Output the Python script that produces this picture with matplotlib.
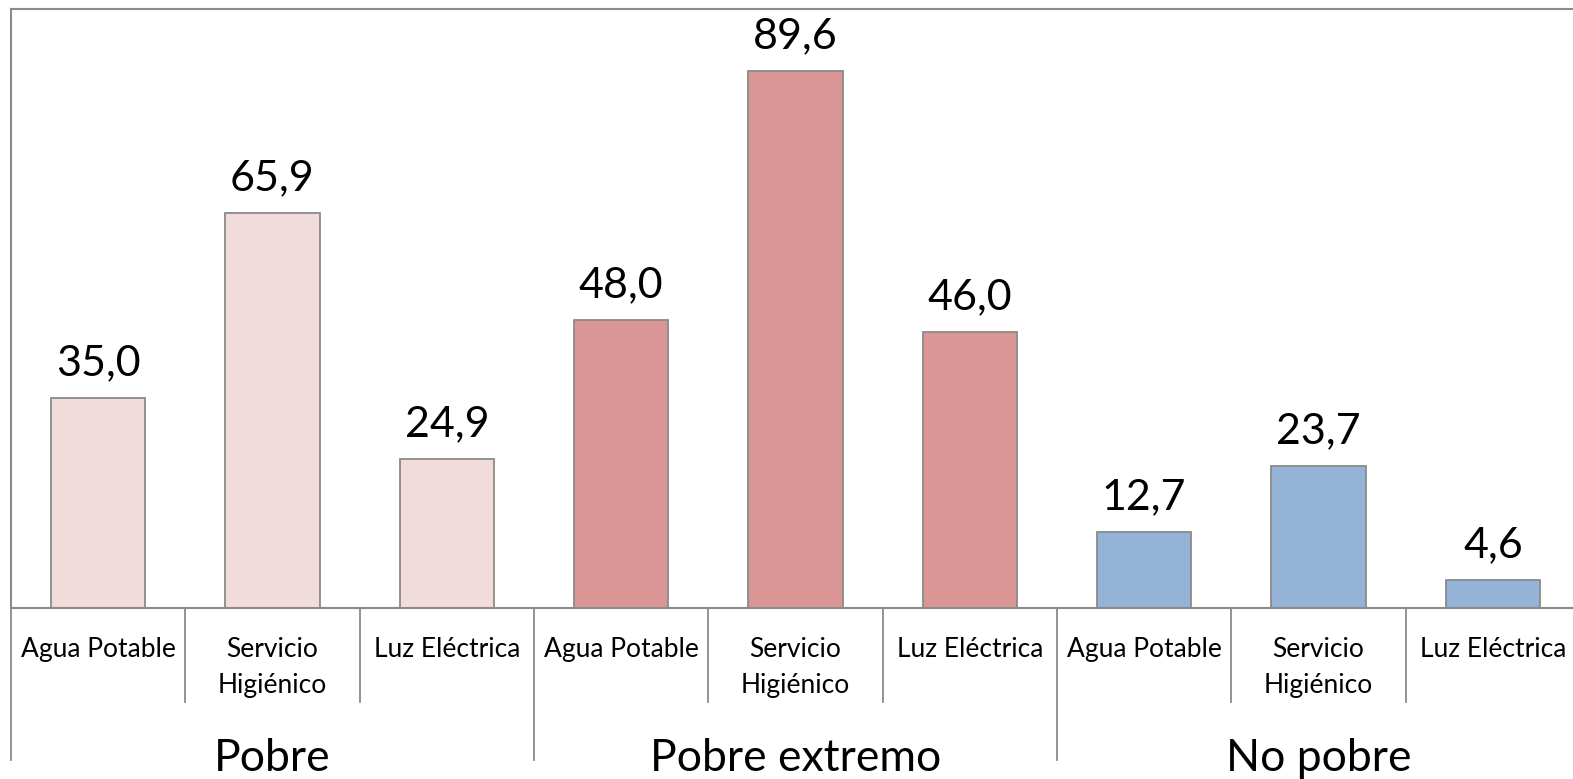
import numpy as np
import matplotlib.pyplot as plt
import matplotlib.transforms as mtransforms

plt.rcParams['font.family'] = ['Lato', 'DejaVu Sans']

# datos
grupos = ['Pobre', 'Pobre extremo', 'No pobre']
servicios = ['Agua Potable', 'Servicio\nHigiénico', 'Luz Eléctrica']
valores = [35.0, 65.9, 24.9, 48.0, 89.6, 46.0, 12.7, 23.7, 4.6]
colores = ['#F2DCDB', '#D99694', '#95B3D7']

gris = '#8a8a8a'
W, H = 1573, 779

fig = plt.figure(figsize=(W / 100, H / 100), dpi=100)
# area del grafico en pixeles: x 11..1580, y 9..608
ax = fig.add_axes([11 / W, (H - 608) / H, (1580 - 11) / W, (608 - 9) / H])

n = len(valores)
x = np.arange(n)
col_barras = [colores[i // 3] for i in range(n)]
barras = ax.bar(x, valores, width=0.54, color=col_barras,
                edgecolor=gris, linewidth=1.3, zorder=2)

for b, v in zip(barras, valores):
    ax.annotate(f'{v:.1f}'.replace('.', ','),
                (b.get_x() + b.get_width() / 2, v),
                xytext=(0, 16.5), textcoords='offset points',
                ha='center', va='baseline', fontsize=31, color='black')

ax.set_xlim(-0.5, n - 0.5)
ax.set_ylim(0, 100)
ax.set_xticks([])
ax.set_yticks([])
for s in ['top', 'left', 'bottom']:
    ax.spines[s].set_color(gris)
    ax.spines[s].set_linewidth(1.5)
ax.spines['right'].set_visible(False)

# eje de categorias de dos niveles
tr = mtransforms.blended_transform_factory(ax.transData, ax.transAxes)
px = 1 / 599.0
for i in range(n + 1):
    xb = i - 0.5
    largo = 152 * px if i % 3 == 0 else 94 * px
    ax.plot([xb, xb], [0, -largo], transform=tr, color=gris, lw=1.3,
            clip_on=False)

for i in range(n):
    ax.text(i, -29 * px, servicios[i % 3], transform=tr, ha='center',
            va='top', fontsize=19, linespacing=1.55)

for g, nombre in enumerate(grupos):
    ax.text(3 * g + 1, -163 * px, nombre, transform=tr, ha='center',
            va='baseline', fontsize=32)

fig.savefig('out.png', dpi=100)
